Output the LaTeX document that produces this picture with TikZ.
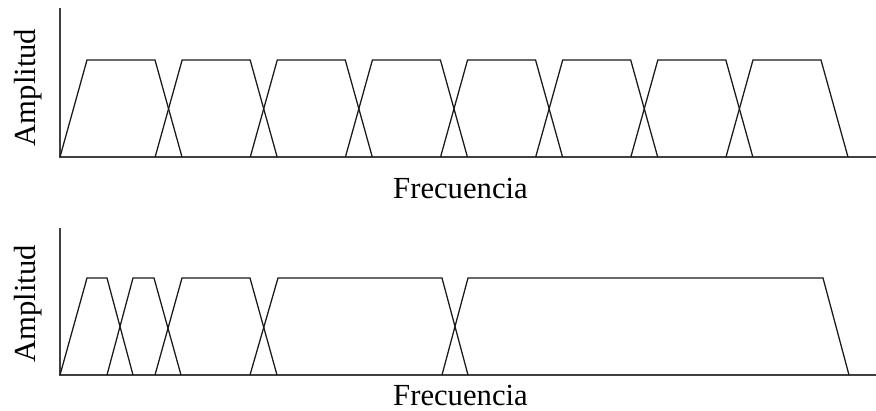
\documentclass[tikz,border=0pt]{standalone}
\usepackage{fontspec}
\setmainfont{Liberation Serif}
\usetikzlibrary{calc}

\tikzset{
 axisline/.style={black!75, line width=1pt},
 band/.style={black!90, line width=0.95pt, line join=miter},
 lbl/.style={font=\fontsize{23}{26}\selectfont, inner sep=0pt}
}

\begin{document}
\begin{tikzpicture}[x=0.75pt, y=0.75pt]
\useasboundingbox (0,0) rectangle (876,411);

% upper panel: uniform bands
\draw[axisline] (60,403) -- (60,254) -- (876,254);
\foreach \i in {0,...,7} {
 \pgfmathsetmacro{\a}{60+95.14*\i}
 \draw[band] (\a,254) --++(27,97) --++(68,0) --++(27,-97);
}
\node[lbl, anchor=base] (freqtop) at (460.5,212) {Frecuencia};
\node[lbl, anchor=base, rotate=90] (amptop) at (36,323.5) {Amplitud};

% lower panel: bands growing with frequency
\draw[axisline] (60,183) -- (60,36) -- (876,36);
\foreach \a/\b/\c/\d in {60/87/107/133, 107/133/154/181, 155/182/250/277,
 250/278/442/468, 442/468/823/849} {
 \draw[band] (\a,36) -- (\b,133) -- (\c,133) -- (\d,36);
}
\node[lbl, anchor=base] (freqbot) at (460.5,5) {Frecuencia};
\node[lbl, anchor=base, rotate=90] (ampbot) at (36,107) {Amplitud};
\end{tikzpicture}
\end{document}
